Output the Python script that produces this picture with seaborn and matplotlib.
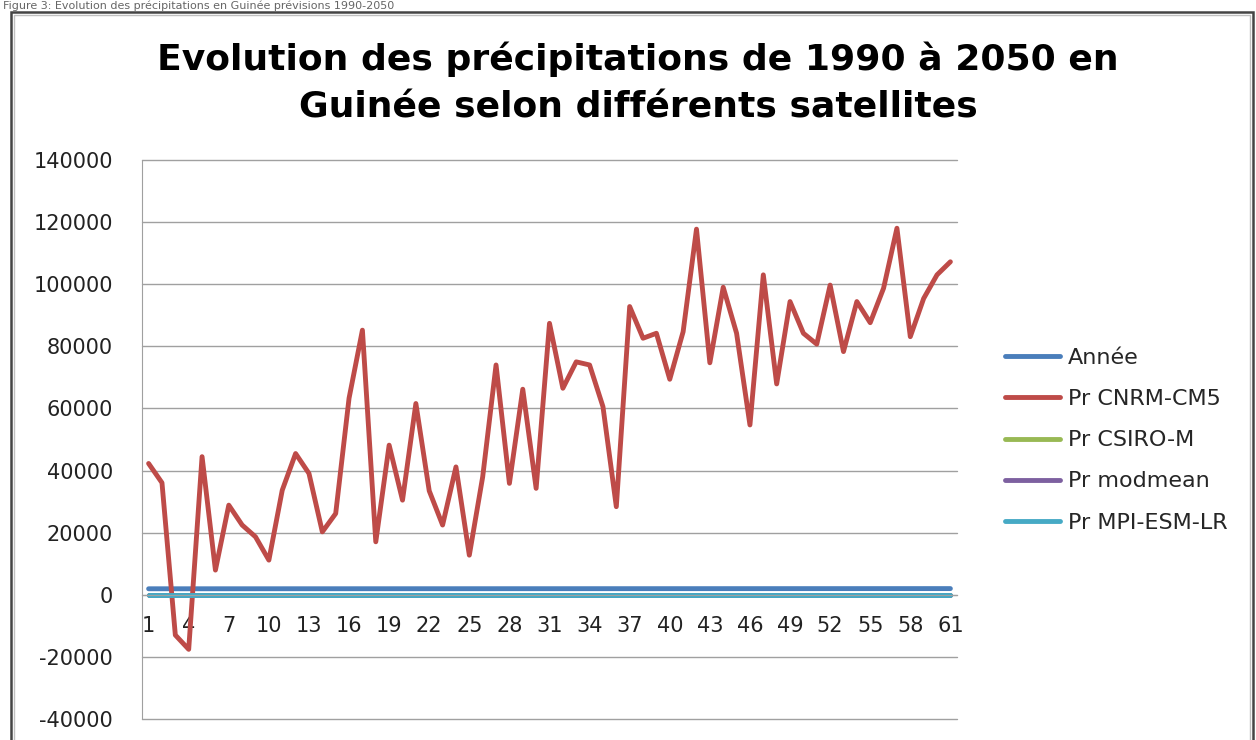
import numpy as np
import pandas as pd
import matplotlib
matplotlib.use("Agg")
import matplotlib.pyplot as plt
import seaborn as sns
from matplotlib.patches import Rectangle

# --- data (index 1..61 = 1990..2050) ---
pas = list(range(1, 62))
annee = [1990, 1991, 1992, 1993, 1994, 1995, 1996, 1997, 1998, 1999,
         2000, 2001, 2002, 2003, 2004, 2005, 2006, 2007, 2008, 2009,
         2010, 2011, 2012, 2013, 2014, 2015, 2016, 2017, 2018, 2019,
         2020, 2021, 2022, 2023, 2024, 2025, 2026, 2027, 2028, 2029,
         2030, 2031, 2032, 2033, 2034, 2035, 2036, 2037, 2038, 2039,
         2040, 2041, 2042, 2043, 2044, 2045, 2046, 2047, 2048, 2049,
         2050]
pr_cnrm = [42300, 36100, -12900, -17500, 44500, 8000, 28900, 22500, 18700, 11200,
           33700, 45500, 39100, 20300, 26200, 63300, 85200, 17100, 48200, 30500,
           61600, 33500, 22500, 41200, 12800, 38000, 74000, 35900, 66200, 34300,
           87400, 66500, 75000, 74000, 60600, 28400, 92800, 82600, 84200, 69400,
           84700, 117700, 74700, 99000, 84200, 54700, 103000, 67900, 94400, 84200,
           80700, 99700, 78300, 94400, 87600, 98700, 118000, 83100, 95400, 103000,
           107200]
# the three other models sit on the zero line at this scale
pr_csiro = [0] * 61
pr_modmean = [0] * 61
pr_mpi = [0] * 61

series = ["Année", "Pr CNRM-CM5", "Pr CSIRO-M", "Pr modmean", "Pr MPI-ESM-LR"]
colors = ["#4A7EBB", "#BE4B48", "#98B954", "#7D60A0", "#46AAC5"]

df = pd.concat([
    pd.DataFrame({"pas": pas, "valeur": vals, "serie": name})
    for name, vals in zip(series, [annee, pr_cnrm, pr_csiro, pr_modmean, pr_mpi])
])

sns.set_style("white")
plt.rcParams["font.family"] = ["DejaVu Sans"]

fig = plt.figure(figsize=(12.56, 7.4), dpi=100)
ax = fig.add_axes([0.113, 0.028, 0.649, 0.756])

sns.lineplot(data=df, x="pas", y="valeur", hue="serie", hue_order=series,
             palette=colors, linewidth=3.5, sort=False, ax=ax)

yticks = list(range(-40000, 140001, 20000))
ax.set_xlim(0.5, 61.5)
ax.set_ylim(-40000, 140000)
ax.set_yticks(yticks)
ax.set_yticklabels([str(v) for v in yticks])
ax.set_xticks(pas[::3])
ax.set_xticklabels([str(v) for v in pas[::3]])
ax.tick_params(axis="x", length=0, pad=15, labelsize=15, labelcolor="#222222")
ax.tick_params(axis="y", length=0, pad=21, labelsize=15, labelcolor="#222222")
ax.grid(axis="y", color="#a0a0a0", linewidth=1)
for gl in ax.get_ygridlines():
    gl.set_clip_on(False)
ax.set_axisbelow(True)
ax.set_xlabel("")
ax.set_ylabel("")
for side in ["top", "right"]:
    ax.spines[side].set_visible(False)
ax.spines["left"].set_color("#a0a0a0")
ax.spines["bottom"].set_position(("data", 0))
ax.spines["bottom"].set_color("#a0a0a0")

ax.legend(loc="center left", bbox_to_anchor=(0.784, 0.405),
          bbox_transform=fig.transFigure, frameon=False, fontsize=16,
          handlelength=2.5, handletextpad=0.35, labelspacing=0.95)
for line in ax.get_legend().get_lines():
    line.set_linewidth(3.5)

fig.text(0.508, 0.888,
         "Evolution des précipitations de 1990 à 2050 en\nGuinée selon différents satellites",
         ha="center", va="center", fontsize=26, fontweight="bold",
         linespacing=1.5, color="black")

# caption at the top of the screenshot, plus the outer frame
fig.text(0.002, 0.999, "Figure 3: Evolution des précipitations en Guinée prévisions 1990-2050",
         fontsize=8, color="#666666", ha="left", va="top")
fig.patches.append(Rectangle((11 / 1256, -0.05), 1242 / 1256, 1.05 - 12 / 740,
                             transform=fig.transFigure, fill=False,
                             edgecolor="#444444", linewidth=1.8))
fig.patches.append(Rectangle((14 / 1256, -0.05), 1236 / 1256, 1.05 - 15 / 740,
                             transform=fig.transFigure, fill=False,
                             edgecolor="#c0c0c0", linewidth=1.0))

fig.savefig("out.png", dpi=100)
